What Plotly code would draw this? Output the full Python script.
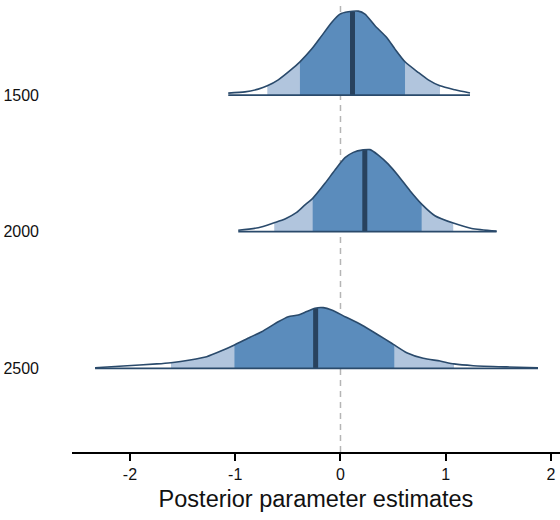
import numpy as np
import plotly.graph_objects as go

# ---- data ----
params = ["1500", "2000", "2500"]
baselines = [2, 1, 0]

x_1500 = [-1.066, -0.907, -0.781, -0.695, -0.591, -0.463, -0.385, -0.274, -0.179, -0.084,
          -0.005, 0.074, 0.169, 0.233, 0.328, 0.439, 0.518, 0.613, 0.739, 0.834, 0.945,
          1.087, 1.230]
d_1500 = [0.015, 0.024, 0.044, 0.068, 0.112, 0.190, 0.244, 0.337, 0.434, 0.532,
          0.593, 0.610, 0.615, 0.593, 0.508, 0.422, 0.337, 0.244, 0.166, 0.112, 0.068,
          0.039, 0.015]

x_2000 = [-0.971, -0.781, -0.629, -0.527, -0.416, -0.337, -0.264, -0.147, -0.052, 0.043,
          0.122, 0.216, 0.280, 0.359, 0.454, 0.549, 0.660, 0.771, 0.897, 1.071, 1.246, 1.483]
d_2000 = [0.011, 0.029, 0.066, 0.093, 0.141, 0.196, 0.244, 0.354, 0.452, 0.542,
          0.581, 0.599, 0.601, 0.561, 0.495, 0.410, 0.300, 0.202, 0.117, 0.063, 0.024, 0.004]

x_2500 = [-2.331, -2.063, -1.745, -1.610, -1.429, -1.271, -1.113, -1.007, -0.859, -0.748,
          -0.591, -0.496, -0.401, -0.321, -0.242, -0.163, -0.084, 0.043, 0.201, 0.359,
          0.486, 0.511, 0.629, 0.786, 0.945, 1.078, 1.261, 1.578, 1.876]
d_2500 = [0.004, 0.017, 0.032, 0.041, 0.061, 0.085, 0.134, 0.171, 0.227, 0.268,
          0.341, 0.378, 0.390, 0.415, 0.440, 0.444, 0.427, 0.378, 0.317, 0.244,
          0.183, 0.171, 0.114, 0.073, 0.053, 0.032, 0.019, 0.010, 0.004]

medians = [0.114, 0.231, -0.236]
inner_lo = [-0.385, -0.264, -1.007]
inner_hi = [0.613, 0.771, 0.511]
outer_lo = [-0.695, -0.629, -1.610]
outer_hi = [0.945, 1.071, 1.078]

tick_vals = [-2, -1, 0, 1, 2]
tick_text = ["-2", "-1", "0", "1", "2"]
x_title = "Posterior parameter estimates"

# ---- styles ----
C_INNER = "#5b8cbc"
C_OUTER = "#b1c5dd"
C_LINE = "#2a4a6b"
C_MED = "#28425e"

xs_all = [x_1500, x_2000, x_2500]
ds_all = [d_1500, d_2000, d_2500]

fig = go.Figure()

def segment(xs, ds, lo, hi):
    xs = np.asarray(xs); ds = np.asarray(ds)
    inside = (xs > lo) & (xs < hi)
    sx = [lo] + list(xs[inside]) + [hi]
    sd = [float(np.interp(lo, xs, ds))] + list(ds[inside]) + [float(np.interp(hi, xs, ds))]
    return sx, sd

for i, p in enumerate(params):
    b = baselines[i]
    xs, ds = xs_all[i], ds_all[i]
    fx = [xs[0]] + list(xs) + [xs[-1]]
    fy = [b] + [b + v for v in ds] + [b]
    fig.add_trace(go.Scatter(x=fx, y=fy, fill="toself", fillcolor="white",
                             mode="lines", line=dict(width=0), hoverinfo="skip", showlegend=False))
    for lo, hi, col in [(outer_lo[i], outer_hi[i], C_OUTER), (inner_lo[i], inner_hi[i], C_INNER)]:
        sx, sd = segment(xs, ds, lo, hi)
        px = [sx[0]] + sx + [sx[-1]]
        py = [b] + [b + v for v in sd] + [b]
        fig.add_trace(go.Scatter(x=px, y=py, fill="toself", fillcolor=col,
                                 mode="lines", line=dict(width=0), hoverinfo="skip", showlegend=False))
    mh = float(np.interp(medians[i], xs, ds))
    fig.add_trace(go.Scatter(x=[medians[i], medians[i]], y=[b, b + mh], mode="lines",
                             line=dict(color=C_MED, width=5), hoverinfo="skip", showlegend=False))
    fig.add_trace(go.Scatter(x=list(xs), y=[b + v for v in ds], mode="lines",
                             line=dict(color=C_LINE, width=1.6, shape="spline", smoothing=0.6),
                             hoverinfo="skip", showlegend=False))
    fig.add_trace(go.Scatter(x=[xs[0], xs[-1]], y=[b, b], mode="lines",
                             line=dict(color=C_LINE, width=1.8), hoverinfo="skip", showlegend=False))

fig.add_shape(type="line", x0=0, x1=0, y0=0, y1=1, yref="paper", xref="x",
              line=dict(color="#b5b5b5", width=1.5, dash="6px,5px"), layer="below")

fig.update_layout(
    width=560, height=520,
    margin=dict(l=72, r=0, t=5, b=68, autoexpand=False),
    plot_bgcolor="white", paper_bgcolor="white",
    font=dict(family="Liberation Sans, Arial, sans-serif", color="#111111"),
    xaxis=dict(range=[-2.55, 2.085], tickvals=tick_vals, ticktext=tick_text,
               showline=True, linecolor="black", linewidth=2,
               ticks="outside", ticklen=7, tickwidth=2, tickcolor="black",
               tickfont=dict(size=16), showgrid=False, zeroline=False, automargin=False,
               title=dict(text=x_title, font=dict(size=23.5), standoff=8)),
    yaxis=dict(range=[-0.613, 2.66], tickvals=baselines, ticktext=params,
               showline=False, ticks="", showgrid=False, zeroline=False, automargin=False,
               tickfont=dict(size=16), ticklabelstandoff=32),
)

fig.write_html("out.html", config={"displayModeBar": False},
               post_script="document.body.style.margin='0';document.body.style.overflow='hidden';")
